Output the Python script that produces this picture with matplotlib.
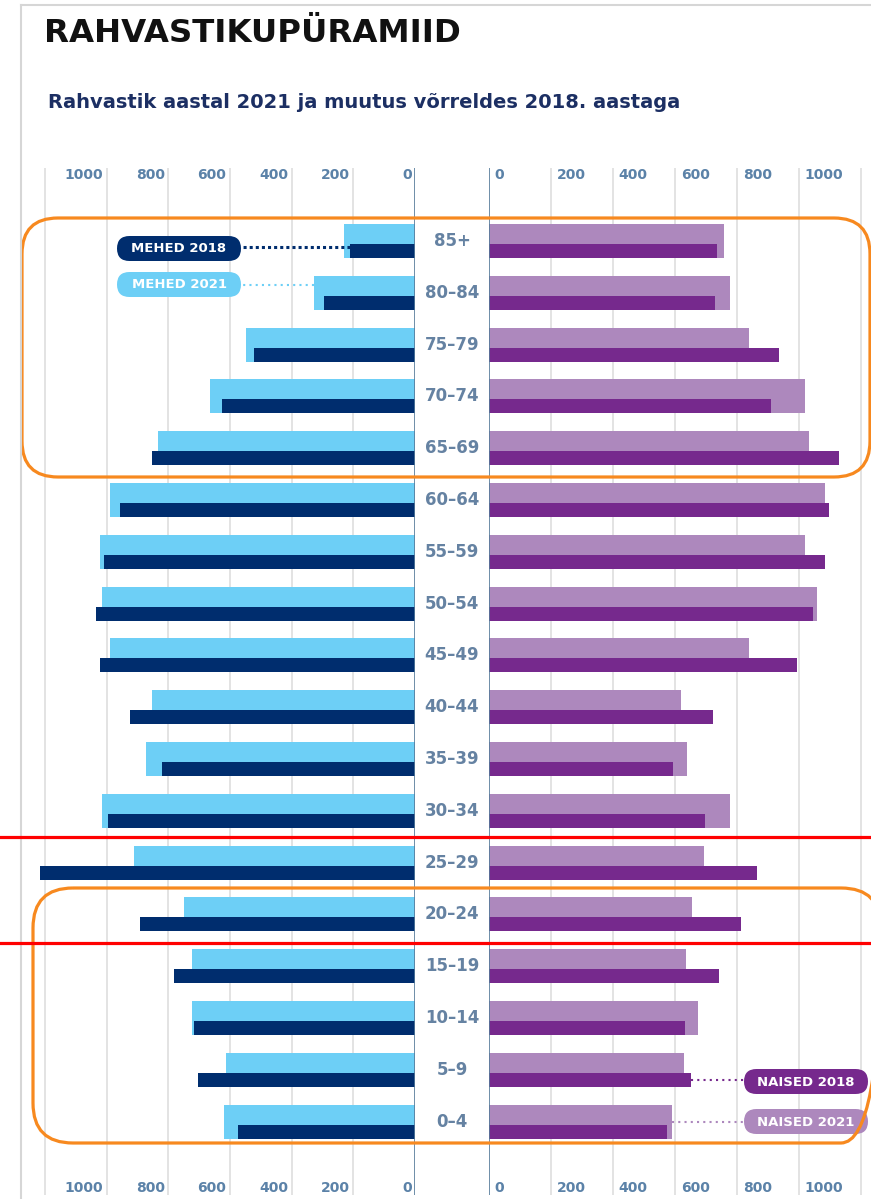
import numpy as np
import matplotlib
matplotlib.use('Agg')
import matplotlib.pyplot as plt
import matplotlib.transforms as mtransforms
from matplotlib.patches import FancyBboxPatch

# population by age group
age_groups = ['85+', '80–84', '75–79', '70–74', '65–69', '60–64', '55–59', '50–54', '45–49',
              '40–44', '35–39', '30–34', '25–29', '20–24', '15–19', '10–14', '5–9', '0–4']
men_2021 = [229, 326, 547, 663, 832, 988, 1021, 1015, 988, 852, 871, 1014, 910, 748, 722, 722, 612, 618]
men_2018 = [211, 294, 521, 625, 852, 956, 1008, 1033, 1021, 923, 819, 995, 1216, 890, 780, 716, 702, 573]
women_2021 = [758, 777, 837, 1017, 1030, 1082, 1017, 1056, 837, 617, 637, 777, 694, 655, 636, 674, 629, 590]
women_2018 = [733, 727, 933, 908, 1127, 1095, 1082, 1044, 991, 721, 592, 695, 863, 811, 740, 630, 650, 572]
tick_vals = [0, 200, 400, 600, 800, 1000]
grid_vals = [200, 400, 600, 800, 1000, 1200]

c_men21 = '#6dcff6'
c_men18 = '#002d6e'
c_wom21 = '#ad88bd'
c_wom18 = '#76298d'
c_tick = '#5b82a8'
c_age = '#6582a2'
c_axis = '#557a9a'
c_grid = '#dedede'
c_orange = '#f7891f'

W, H = 871, 1199
fig = plt.figure(figsize=(W / 100, H / 100), dpi=100)


def px_axes(x0, x1, y0, y1):
    return fig.add_axes([x0 / W, 1 - y1 / H, (x1 - x0) / W, (y1 - y0) / H])


ax_m = px_axes(20, 415, 168, 1195)
ax_w = px_axes(489.3, 871, 168, 1195)
pitch = 51.8
rows = np.arange(len(age_groups))
for ax in (ax_m, ax_w):
    ax.set_ylim((1195 - 241) / pitch, (168 - 241) / pitch)
    ax.axis('off')
ax_m.set_xlim(1280.4, 0)
ax_w.set_xlim(0, 1231.3)

y_top = (175 - 241) / pitch
y_bot = (1188 - 241) / pitch
for ax, off, ha in ((ax_m, -2.5, 'right'), (ax_w, 4, 'left')):
    for v in grid_vals:
        ax.axvline(v, color=c_grid, lw=1.2, zorder=0)
    ax.axvline(0, color=c_axis, lw=1.2, zorder=4)
    for v in tick_vals:
        for yy in (y_top, y_bot):
            ax.annotate(str(v), (v, yy), xytext=(off, 0), textcoords='offset points',
                        ha=ha, va='center', fontsize=10, fontweight='bold', color=c_tick)

h_light = 0.656
h_dark = 0.27
d_dark = h_light / 2 - h_dark / 2
ax_m.barh(rows, men_2021, height=h_light, color=c_men21, zorder=2)
ax_m.barh(rows + d_dark, men_2018, height=h_dark, color=c_men18, zorder=3)
ax_w.barh(rows, women_2021, height=h_light, color=c_wom21, zorder=2)
ax_w.barh(rows + d_dark, women_2018, height=h_dark, color=c_wom18, zorder=3)

# age labels between the two halves
trans = mtransforms.blended_transform_factory(fig.transFigure, ax_m.transData)
for i, lab in enumerate(age_groups):
    fig.text(452 / W, i, lab, transform=trans, ha='center', va='center',
             fontsize=12, fontweight='bold', color=c_age)

# leader lines to the legend pills
ax_m.plot([men_2018[0], 564], [0.12, 0.12], color=c_men18, lw=2.2, ls=(0, (1, 1)), zorder=5)
ax_m.plot([men_2021[1], 564], [0.85, 0.85], color=c_men21, lw=1.5, ls=(0, (1, 2)), zorder=1)
ax_w.plot([women_2018[16], 821.6], [16.2, 16.2], color=c_wom18, lw=1.5, ls=(0, (1, 2)), zorder=1)
ax_w.plot([women_2021[17], 821.6], [17.0, 17.0], color=c_wom21, lw=1.5, ls=(0, (1, 2)), zorder=1)

# overlay in pixel units for title, legend pills and markup
ov = fig.add_axes([0, 0, 1, 1])
ov.set_xlim(0, W)
ov.set_ylim(H, 0)
ov.axis('off')

ov.plot([21, 21], [5, H], color='#d6d6d6', lw=1.5)
ov.plot([21, W], [5, 5], color='#d6d6d6', lw=1.5)

ov.text(44, 33, 'RAHVASTIKUPÜRAMIID', ha='left', va='center', fontsize=23.3,
        fontweight='bold', color='#111111')
ov.text(48, 102, 'Rahvastik aastal 2021 ja muutus võrreldes 2018. aastaga', ha='left',
        va='center', fontsize=14, fontweight='bold', color='#1c2f63')

pills = [(117, 236, 'MEHED 2018', c_men18), (117, 272, 'MEHED 2021', c_men21),
         (744, 1069, 'NAISED 2018', c_wom18), (744, 1109, 'NAISED 2021', c_wom21)]
for x0, y0, txt, col in pills:
    ov.add_patch(FancyBboxPatch((x0, y0), 124, 25, boxstyle='round,pad=0,rounding_size=12.5',
                                fc=col, ec='none'))
    ov.text(x0 + 62, y0 + 13, txt, ha='center', va='center', fontsize=9.5,
            fontweight='bold', color='white')

ov.add_patch(FancyBboxPatch((22, 218), 848, 259, boxstyle='round,pad=0,rounding_size=36',
                            fc='none', ec=c_orange, lw=2.3))
ov.add_patch(FancyBboxPatch((33, 888), 848, 255, boxstyle='round,pad=0,rounding_size=40',
                            fc='none', ec=c_orange, lw=2.3))
ov.plot([0, W], [837, 837], color='red', lw=2.3)
ov.plot([0, W], [943, 943], color='red', lw=2.3)

fig.savefig('out.png', dpi=100)
